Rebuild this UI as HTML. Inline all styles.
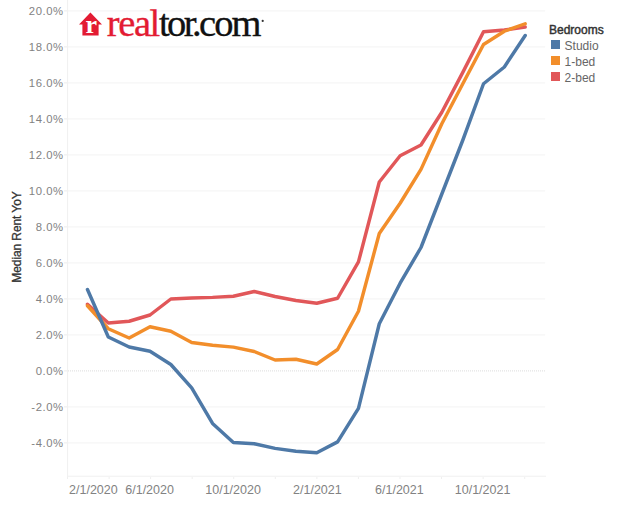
<!DOCTYPE html>
<html><head><meta charset="utf-8"><title>Median Rent YoY</title>
<style>
html,body{margin:0;padding:0;background:#fff;}
body{width:640px;height:512px;position:relative;overflow:hidden;font-family:"Liberation Sans",sans-serif;}
svg{position:absolute;left:0;top:0;}
.yl{position:absolute;left:0;width:63.6px;text-align:right;font-size:11.3px;line-height:14px;color:#828282;letter-spacing:0.55px;}
.xl{position:absolute;top:483px;width:80px;text-align:center;font-size:12.5px;line-height:14px;color:#828282;}
.ytitle{-webkit-text-stroke:0.3px #333;position:absolute;left:-32.6px;top:230px;width:100px;height:14px;line-height:14px;text-align:center;font-size:12px;color:#333;transform:rotate(-90deg);white-space:nowrap;letter-spacing:-0.1px;}
.logo{position:absolute;left:106.8px;top:3.3px;font-family:"Liberation Serif",serif;font-size:38.5px;line-height:40px;letter-spacing:-2.0px;-webkit-text-stroke:0.35px currentColor;white-space:nowrap;color:#111;}
.logo i{font-style:normal;letter-spacing:-2.52px;}
.logo b{font-weight:normal;color:#e31b33;letter-spacing:-1.4px;}
.lt{position:absolute;left:549px;top:23.3px;font-size:12px;font-weight:normal;-webkit-text-stroke:0.45px #333;color:#333;line-height:14px;}
.li{position:absolute;left:564.6px;font-size:12px;color:#666;line-height:14px;}
</style></head><body>
<svg width="640" height="512" viewBox="0 0 640 512">
<line x1="68" y1="10.9" x2="545.2" y2="10.9" stroke="#f3f3f3" stroke-width="1"/>
<line x1="64" y1="10.9" x2="67" y2="10.9" stroke="#ececec" stroke-width="1"/>
<line x1="68" y1="46.9" x2="545.2" y2="46.9" stroke="#f3f3f3" stroke-width="1"/>
<line x1="64" y1="46.9" x2="67" y2="46.9" stroke="#ececec" stroke-width="1"/>
<line x1="68" y1="82.9" x2="545.2" y2="82.9" stroke="#f3f3f3" stroke-width="1"/>
<line x1="64" y1="82.9" x2="67" y2="82.9" stroke="#ececec" stroke-width="1"/>
<line x1="68" y1="118.9" x2="545.2" y2="118.9" stroke="#f3f3f3" stroke-width="1"/>
<line x1="64" y1="118.9" x2="67" y2="118.9" stroke="#ececec" stroke-width="1"/>
<line x1="68" y1="154.9" x2="545.2" y2="154.9" stroke="#f3f3f3" stroke-width="1"/>
<line x1="64" y1="154.9" x2="67" y2="154.9" stroke="#ececec" stroke-width="1"/>
<line x1="68" y1="190.9" x2="545.2" y2="190.9" stroke="#f3f3f3" stroke-width="1"/>
<line x1="64" y1="190.9" x2="67" y2="190.9" stroke="#ececec" stroke-width="1"/>
<line x1="68" y1="226.9" x2="545.2" y2="226.9" stroke="#f3f3f3" stroke-width="1"/>
<line x1="64" y1="226.9" x2="67" y2="226.9" stroke="#ececec" stroke-width="1"/>
<line x1="68" y1="262.9" x2="545.2" y2="262.9" stroke="#f3f3f3" stroke-width="1"/>
<line x1="64" y1="262.9" x2="67" y2="262.9" stroke="#ececec" stroke-width="1"/>
<line x1="68" y1="298.9" x2="545.2" y2="298.9" stroke="#f3f3f3" stroke-width="1"/>
<line x1="64" y1="298.9" x2="67" y2="298.9" stroke="#ececec" stroke-width="1"/>
<line x1="68" y1="334.9" x2="545.2" y2="334.9" stroke="#f3f3f3" stroke-width="1"/>
<line x1="64" y1="334.9" x2="67" y2="334.9" stroke="#ececec" stroke-width="1"/>
<line x1="68" y1="370.9" x2="545.2" y2="370.9" stroke="#dcdcdc" stroke-width="1" stroke-dasharray="1 1"/>
<line x1="64" y1="370.9" x2="67" y2="370.9" stroke="#ececec" stroke-width="1"/>
<line x1="68" y1="406.9" x2="545.2" y2="406.9" stroke="#f3f3f3" stroke-width="1"/>
<line x1="64" y1="406.9" x2="67" y2="406.9" stroke="#ececec" stroke-width="1"/>
<line x1="68" y1="442.9" x2="545.2" y2="442.9" stroke="#f3f3f3" stroke-width="1"/>
<line x1="64" y1="442.9" x2="67" y2="442.9" stroke="#ececec" stroke-width="1"/>

<line x1="67.6" y1="0" x2="67.6" y2="477" stroke="#f0f0f0" stroke-width="1"/>
<line x1="67" y1="476.2" x2="546" y2="476.2" stroke="#f0f0f0" stroke-width="1"/>
<line x1="67.5" y1="477" x2="67.5" y2="479" stroke="#efefef" stroke-width="1"/>
<line x1="109.1" y1="477" x2="109.1" y2="479" stroke="#efefef" stroke-width="1"/>
<line x1="150.6" y1="477" x2="150.6" y2="479" stroke="#efefef" stroke-width="1"/>
<line x1="192.2" y1="477" x2="192.2" y2="479" stroke="#efefef" stroke-width="1"/>
<line x1="233.7" y1="477" x2="233.7" y2="479" stroke="#efefef" stroke-width="1"/>
<line x1="275.3" y1="477" x2="275.3" y2="479" stroke="#efefef" stroke-width="1"/>
<line x1="316.9" y1="477" x2="316.9" y2="479" stroke="#efefef" stroke-width="1"/>
<line x1="358.4" y1="477" x2="358.4" y2="479" stroke="#efefef" stroke-width="1"/>
<line x1="400.0" y1="477" x2="400.0" y2="479" stroke="#efefef" stroke-width="1"/>
<line x1="441.5" y1="477" x2="441.5" y2="479" stroke="#efefef" stroke-width="1"/>
<line x1="483.1" y1="477" x2="483.1" y2="479" stroke="#efefef" stroke-width="1"/>
<line x1="524.7" y1="477" x2="524.7" y2="479" stroke="#efefef" stroke-width="1"/>

<polyline fill="none" stroke="#e15759" stroke-width="3.45" stroke-linejoin="round" stroke-linecap="round" points="87.47,304.25 108.32,323.00 129.16,321.25 150.01,315.00 170.85,299.00 191.69,298.00 212.54,297.40 233.38,296.25 254.23,291.50 275.07,296.50 295.91,300.50 316.76,303.25 337.60,298.25 358.45,261.90 379.29,182.00 400.13,155.75 420.98,145.00 441.82,112.20 462.67,72.60 483.51,31.75 504.35,30.00 525.20,27.00"/>
<polyline fill="none" stroke="#f28e2b" stroke-width="3.45" stroke-linejoin="round" stroke-linecap="round" points="87.47,305.75 108.32,328.75 129.16,338.00 150.01,326.75 170.85,331.25 191.69,342.50 212.54,345.30 233.38,347.10 254.23,351.50 275.07,360.00 295.91,359.25 316.76,364.00 337.60,349.50 358.45,311.25 379.29,233.50 400.13,203.25 420.98,169.40 441.82,123.75 462.67,84.00 483.51,44.50 504.35,31.25 525.20,23.75"/>
<polyline fill="none" stroke="#4e79a7" stroke-width="3.45" stroke-linejoin="round" stroke-linecap="round" points="87.47,289.50 108.32,337.00 129.16,347.00 150.01,351.25 170.85,364.50 191.69,387.80 212.54,423.40 233.38,442.50 254.23,443.75 275.07,448.40 295.91,451.25 316.76,452.80 337.60,441.90 358.45,408.40 379.29,323.75 400.13,283.20 420.98,247.50 441.82,194.00 462.67,140.50 483.51,83.75 504.35,67.00 525.20,35.50"/>
<!-- house icon -->
<path d="M90.4 12.4 L102 24.6 L98.6 24.6 L98.6 35.4 L82.4 35.4 L82.4 24.6 L79 24.6 Z" fill="#e31b33"/>
<text x="91.2" y="33.3" font-family="Liberation Serif, serif" font-weight="bold" font-size="26" fill="#fff" text-anchor="middle">r</text>
<rect x="551" y="40" width="9" height="9" fill="#4e79a7"/>
<rect x="551" y="56" width="9" height="9" fill="#f28e2b"/>
<rect x="551" y="72" width="9" height="9" fill="#e15759"/>
<circle cx="262.7" cy="20.9" r="1.1" fill="#333"/>
</svg>
<div class="yl" style="top:3.7px">20.0%</div>
<div class="yl" style="top:39.7px">18.0%</div>
<div class="yl" style="top:75.7px">16.0%</div>
<div class="yl" style="top:111.7px">14.0%</div>
<div class="yl" style="top:147.7px">12.0%</div>
<div class="yl" style="top:183.7px">10.0%</div>
<div class="yl" style="top:219.7px">8.0%</div>
<div class="yl" style="top:255.7px">6.0%</div>
<div class="yl" style="top:291.7px">4.0%</div>
<div class="yl" style="top:327.7px">2.0%</div>
<div class="yl" style="top:363.7px">0.0%</div>
<div class="yl" style="top:399.7px">-2.0%</div>
<div class="yl" style="top:435.7px">-4.0%</div>

<div class="xl" style="left:53.4px">2/1/2020</div>
<div class="xl" style="left:109.6px">6/1/2020</div>
<div class="xl" style="left:193.1px">10/1/2020</div>
<div class="xl" style="left:277.4px">2/1/2021</div>
<div class="xl" style="left:359.4px">6/1/2021</div>
<div class="xl" style="left:442.6px">10/1/2021</div>

<div class="ytitle">Median Rent YoY</div>
<div class="logo"><b>real</b><i>tor.</i>com</div>
<div class="lt">Bedrooms</div>
<div class="li" style="top:38.5px">Studio</div>
<div class="li" style="top:54.5px">1-bed</div>
<div class="li" style="top:70.5px">2-bed</div>
</body></html>
